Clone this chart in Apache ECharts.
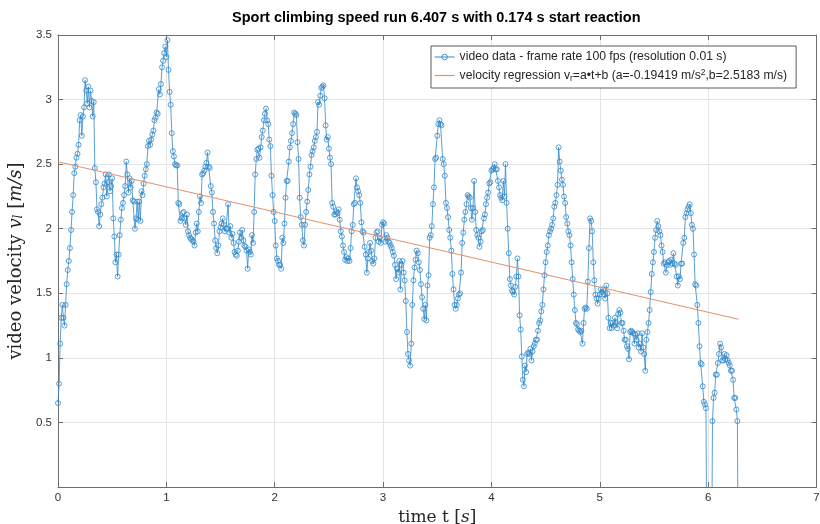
<!DOCTYPE html>
<html><head><meta charset="utf-8">
<script src="https://cdn.jsdelivr.net/npm/echarts@6/dist/echarts.min.js"></script>
<style>html,body{margin:0;padding:0;background:#fff}#c{width:820px;height:524px}</style>
</head><body><div id="c"></div>
<script>
// ---- data ----
const titleText = 'Sport climbing speed run 6.407 s with 0.174 s start reaction';
const dataName = 'video data - frame rate 100 fps (resolution 0.01 s)';
const regName = 'velocity regression v_r=a•t+b (a=-0.19419 m/s²,b=2.5183 m/s)';
const sampleStart = 0;      // s
const sampleStep = 0.01;    // s (100 fps)
const velocity = [
0.65,0.80,1.11,1.31,1.41,1.31,1.25,1.41,1.57,1.68,
1.75,1.85,1.99,2.13,2.26,2.43,2.48,2.55,2.58,2.65,
2.84,2.88,2.72,2.87,2.94,3.15,3.07,2.97,3.10,2.94,
3.07,2.99,2.87,2.98,2.47,2.36,2.15,2.13,2.02,2.11,
2.19,2.24,2.32,2.35,2.42,2.25,2.36,2.42,2.29,2.33,
2.39,2.08,1.94,1.74,1.80,1.63,1.80,1.95,2.07,2.16,
2.20,2.26,2.33,2.52,2.42,2.28,2.39,2.32,2.37,2.22,
2.21,2.00,2.08,2.21,2.07,2.21,2.06,2.29,2.26,2.35,
2.41,2.46,2.50,2.64,2.68,2.65,2.69,2.73,2.76,2.84,
2.86,2.90,2.89,3.08,3.04,3.12,3.25,3.30,3.36,3.41,
3.33,3.46,
3.23,3.06,2.96,2.74,2.60,2.56,2.50,2.49,2.49,2.20,
2.19,2.06,2.08,2.12,2.13,2.08,2.03,2.11,1.98,1.95,
1.93,1.92,1.91,1.90,1.87,1.97,2.04,1.98,2.13,2.25,
2.20,2.42,2.43,2.45,2.48,2.51,2.59,2.48,2.47,
2.33,2.28,2.13,2.04,1.91,1.85,1.81,1.87,1.98,2.01,
2.04,2.08,2.03,1.98,2.00,2.00,2.19,1.97,
2.02,1.93,1.96,1.89,1.82,1.80,1.79,1.83,1.90,
1.97,1.93,1.99,1.91,1.87,1.86,1.83,1.69,1.84,1.82,
1.80,1.95,1.89,2.13,2.42,2.54,2.61,2.62,2.55,
2.63,2.71,2.76,2.84,2.89,2.93,2.84,2.81,2.69,2.64,
2.41,2.26,2.13,2.06,1.87,1.77,1.75,1.72,1.72,
1.69,1.93,1.89,2.04,2.24,2.37,2.37,2.52,2.63,
2.68,2.74,2.81,2.90,2.89,2.88,2.67,2.54,
2.24,2.09,2.03,1.91,1.87,2.03,2.13,2.21,2.30,2.42,
2.48,2.57,2.60,2.63,2.68,2.71,2.75,2.98,2.96,3.03,
3.09,3.10,3.11,3.01,2.80,2.69,2.71,2.62,2.55,2.50,
2.20,2.17,2.11,2.11,2.13,2.12,2.15,2.07,1.98,1.94,
1.87,1.82,1.76,1.78,1.75,1.77,1.75,1.85,1.98,2.03,
2.19,2.20,2.39,2.32,2.29,2.26,2.20,2.05,1.98,1.97,
1.86,1.80,1.66,1.77,1.82,1.89,1.83,1.75,1.73,1.77,
1.93,1.97,1.98,1.90,1.93,1.89,2.03,2.05,2.04,1.90,
1.95,1.93,1.90,1.89,1.87,1.85,1.82,1.79,1.72,1.61,
1.69,1.66,1.75,1.53,1.72,1.75,1.66,1.60,1.44,1.20,
1.03,0.98,0.94,
1.11,1.41,1.60,1.70,1.76,1.83,1.81,1.74,1.68,1.57,
1.47,1.38,1.30,1.41,1.29,1.56,1.64,1.93,1.95,2.02,
2.19,2.32,2.54,2.55,2.72,2.81,2.84,2.81,2.80,2.54,
2.50,2.41,2.20,2.16,2.09,1.99,1.93,1.83,1.65,1.53,
1.41,1.38,1.41,1.46,1.49,1.50,1.66,1.89,1.97,2.07,
2.13,2.19,2.26,2.25,2.24,2.16,2.07,2.16,2.37,2.13,
1.99,1.95,1.93,1.86,1.90,1.98,1.99,2.08,2.11,2.19,
2.24,2.28,2.35,2.36,2.45,2.46,2.47,2.50,2.46,2.46,
2.37,2.32,2.26,2.24,2.22,2.37,2.25,2.50,2.20,2.00,
1.81,1.61,1.56,1.52,1.51,1.49,1.55,1.63,1.77,1.63,
1.33,1.22,1.01,0.83,0.78,0.94,0.89,1.03,1.04,1.03,
1.07,0.98,1.05,1.09,1.11,1.14,1.14,1.21,1.27,
1.29,1.36,1.41,1.53,1.64,1.74,1.82,1.87,1.95,1.98,
2.00,2.03,2.08,2.17,2.20,2.26,2.34,2.63,2.52,2.45,
2.38,2.34,2.25,2.20,2.09,2.04,1.98,1.95,1.87,1.74,
1.61,1.49,1.37,1.27,1.26,1.22,1.21,1.20,1.21,1.11,
1.27,1.38,1.39,1.38,1.59,1.85,2.08,2.06,1.98,1.74,
1.60,1.49,1.46,1.42,1.46,1.49,1.53,1.51,1.53,1.49,
1.46,1.56,1.50,1.31,1.23,1.27,1.23,1.27,1.25,1.31,
1.27,1.23,1.34,1.37,1.35,1.27,1.27,1.21,1.14,1.14,
1.09,1.07,0.99,1.20,1.21,1.20,1.19,1.11,1.18,1.14,
1.19,1.08,1.11,1.05,1.19,1.08,1.03,0.90,1.14,1.20,
1.27,1.37,1.51,1.65,1.74,1.82,1.93,1.99,2.06,
2.02,1.98,1.95,1.87,1.82,1.73,1.74,1.66,1.72,1.74,
1.75,1.72,1.76,1.73,1.81,1.73,1.72,1.63,1.56,1.63,
1.61,1.73,1.73,1.89,1.93,2.09,2.12,2.15,2.17,2.19,
2.12,2.03,2.00,1.80,1.57,1.56,1.41,1.27,1.09,0.96,
0.95,0.78,0.66,0.64,0.61,
-1.00,-1.00,-1.00,-1.00,-1.00,
0.51,0.69,0.73,0.87,0.87,0.96,1.03,1.11,1.08,0.98,
0.98,1.03,0.99,1.02,0.98,0.96,0.94,0.90,0.90,0.83,
0.69,0.69,0.60,0.51,
-1.00
];
const regA = -0.19419;     // m/s^2
const regB = 2.5183;       // m/s
const regTimes = [0, 6.28];
const yTickValues = [0.5, 1, 1.5, 2, 2.5, 3, 3.5];

// ---- chart ----
const seriesData = velocity.map((v, i) => [+(sampleStart + i * sampleStep).toFixed(2), v]);
const regData = regTimes.map(t => [t, regA * t + regB]);

const axisCol = '#6e6e6e';
const gridCol = '#e4e4e4';
const labelCol = '#333333';
const blue = '#3088ca';
const orange = '#e4906c';
const sans = '"Liberation Sans", Arial, Helvetica, sans-serif';
const serif = '"DejaVu Serif", "Liberation Serif", serif';

const chart = echarts.init(document.getElementById('c'), null, {renderer: 'canvas'});
const richX = {
  n: {fontFamily: serif, fontSize: 17, color: '#262626'},
  i: {fontFamily: serif, fontSize: 17, fontStyle: 'italic', color: '#262626'}
};
const richY = {
  n: {fontFamily: serif, fontSize: 18, color: '#262626'},
  i: {fontFamily: serif, fontSize: 18, fontStyle: 'italic', color: '#262626'},
  is: {fontFamily: serif, fontSize: 12, fontStyle: 'italic', color: '#262626', lineHeight: 12, verticalAlign: 'bottom'}
};
chart.setOption({
  animation: false,
  backgroundColor: '#ffffff',
  title: {
    text: titleText,
    left: 230,
    top: 6,
    padding: [4, 2, 4, 2],
    textStyle: {fontFamily: sans, fontSize: 14.5, fontWeight: 'bold', color: '#000'}
  },
  grid: {left: 58, right: 3.5, top: 35, bottom: 37, containLabel: false, outerBoundsMode: 'none'},
  legend: {
    orient: 'vertical',
    left: 431, top: 46,
    padding: [5, 9, 5, 3],
    itemGap: 5,
    itemWidth: 20, itemHeight: 7,
    borderColor: '#333', borderWidth: 0.8,
    backgroundColor: '#ffffff',
    lineStyle: {width: 1},
    data: [
      {name: dataName, itemStyle: {color: 'rgba(255,255,255,0)', borderColor: blue, borderWidth: 0.9}},
      {name: regName, itemStyle: {opacity: 0}, lineStyle: {color: orange, width: 1.2}}
    ],
    formatter: function (name) {
      if (name === regName) {
        return '{t|velocity regression v}{sub|r}{t|=a•t+b (a=-0.19419 m/s}{sup|2}{t|,b=2.5183 m/s)}';
      }
      return '{t|' + name + '}';
    },
    textStyle: {
      fontFamily: sans, fontSize: 12.2, color: '#262626',
      rich: {
        t: {fontFamily: sans, fontSize: 12.2, lineHeight: 15, color: '#262626'},
        sub: {fontFamily: sans, fontSize: 8.5, lineHeight: 7, verticalAlign: 'bottom', color: '#262626'},
        sup: {fontFamily: sans, fontSize: 8.5, lineHeight: 7, verticalAlign: 'top', color: '#262626'}
      }
    }
  },
  xAxis: [{
    type: 'value', min: 0, max: 7, interval: 1, position: 'bottom',
    axisLine: {show: true, onZero: false, lineStyle: {color: axisCol, width: 1}},
    axisTick: {show: true, inside: true, length: 5, lineStyle: {color: axisCol}},
    axisLabel: {color: labelCol, fontFamily: sans, fontSize: 11.5, margin: 5},
    splitLine: {show: true, lineStyle: {color: gridCol, width: 1}},
    name: '{n|time t }{n|[}{i|s}{n|]}',
    nameLocation: 'middle', nameGap: 12,
    nameTextStyle: {rich: richX}
  }, {
    type: 'value', min: 0, max: 7, interval: 1, position: 'top',
    axisLine: {show: true, onZero: false, lineStyle: {color: axisCol, width: 1}},
    axisTick: {show: true, inside: true, length: 5, lineStyle: {color: axisCol}},
    axisLabel: {show: false}, splitLine: {show: false}
  }],
  yAxis: [{
    type: 'value', min: 0, max: 3.5, interval: 0.5, position: 'left',
    axisLine: {show: true, onZero: false, lineStyle: {color: axisCol, width: 1}},
    axisTick: {show: true, inside: true, length: 5, lineStyle: {color: axisCol}},
    axisLabel: {color: labelCol, fontFamily: sans, fontSize: 11.5, margin: 6,
      formatter: v => (yTickValues.indexOf(v) >= 0 ? String(v) : '')},
    splitLine: {show: true, lineStyle: {color: gridCol, width: 1}},
    name: '{n|video velocity }{i|v}{is|l}{n| [}{i|m/s}{n|]}',
    nameLocation: 'middle', nameGap: 19,
    nameTextStyle: {rich: richY}
  }, {
    type: 'value', min: 0, max: 3.5, interval: 0.5, position: 'right',
    axisLine: {show: true, onZero: false, lineStyle: {color: axisCol, width: 1}},
    axisTick: {show: true, inside: true, length: 5, lineStyle: {color: axisCol}},
    axisLabel: {show: false}, splitLine: {show: false}
  }],
  series: [{
    name: dataName,
    type: 'line',
    data: seriesData,
    clip: true,
    symbol: 'circle',
    symbolSize: 5,
    showAllSymbol: true,
    color: blue,
    itemStyle: {color: 'rgba(255,255,255,0)', borderColor: blue, borderWidth: 0.8},
    lineStyle: {color: blue, width: 0.8},
    emphasis: {disabled: true},
    z: 2
  }, {
    name: regName,
    type: 'line',
    data: regData,
    symbol: 'none',
    color: orange,
    lineStyle: {color: orange, width: 1},
    emphasis: {disabled: true},
    z: 3
  }]
});
</script>
</body></html>
